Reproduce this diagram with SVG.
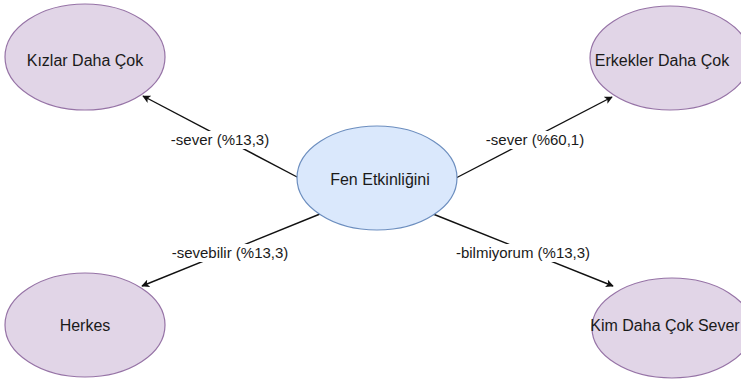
<svg xmlns="http://www.w3.org/2000/svg" width="741" height="380" viewBox="0 0 741 380">
<style>
.p{fill:#e1d5e7;stroke:#9673a6;stroke-width:1.2}
.b{fill:#dae8fc;stroke:#6c8ebf;stroke-width:1.2}
.t{font-family:"Liberation Sans",Arial,sans-serif;font-size:16px;fill:#1a1a1a;text-anchor:middle}
.l{font-family:"Liberation Sans",Arial,sans-serif;font-size:15px;fill:#1a1a1a;text-anchor:middle}
.e{stroke:#111;stroke-width:1.4;fill:none;marker-end:url(#a)}
.bg{fill:#fff}
</style>
<defs>
<marker id="a" viewBox="0 0 10 10" refX="9" refY="5" markerWidth="8" markerHeight="8" markerUnits="userSpaceOnUse" orient="auto">
<path d="M0,0 L10,5 L0,10 L2.5,5 Z" fill="#111"/>
</marker>
</defs>
<rect width="741" height="380" fill="#fff"/>
<g id="connectors">
<line class="e" x1="299" y1="178" x2="143" y2="96"/>
<line class="e" x1="456" y1="178" x2="612" y2="97"/>
<line class="e" x1="320" y1="214" x2="142" y2="286"/>
<line class="e" x1="433" y1="214" x2="613" y2="286"/>
<rect class="bg" x="170" y="131" width="100" height="18"/>
<text class="l" x="220" y="145">-sever (%13,3)</text>
<rect class="bg" x="485" y="131" width="100" height="18"/>
<text class="l" x="535" y="145">-sever (%60,1)</text>
<rect class="bg" x="168" y="244" width="124" height="18"/>
<text class="l" x="230" y="258">-sevebilir (%13,3)</text>
<rect class="bg" x="455" y="244" width="136" height="18"/>
<text class="l" x="523" y="258">-bilmiyorum (%13,3)</text>
</g>
<g id="kizlar">
<ellipse class="p" cx="85" cy="57" rx="80" ry="53"/>
<text class="t" x="85" y="66">Kızlar Daha Çok</text>
</g>
<g id="erkekler">
<ellipse class="p" cx="670" cy="58" rx="80" ry="52"/>
<text class="t" x="662" y="66">Erkekler Daha Çok</text>
</g>
<g id="herkes">
<ellipse class="p" cx="85" cy="325" rx="80" ry="52"/>
<text class="t" x="85" y="331">Herkes</text>
</g>
<g id="kim">
<ellipse class="p" cx="672" cy="328" rx="80" ry="50"/>
<text class="t" x="665" y="331">Kim Daha Çok Sever</text>
</g>
<g id="fen">
<ellipse class="b" cx="377" cy="178" rx="80" ry="52"/>
<text class="t" x="380" y="185">Fen Etkinliğini</text>
</g>
</svg>
